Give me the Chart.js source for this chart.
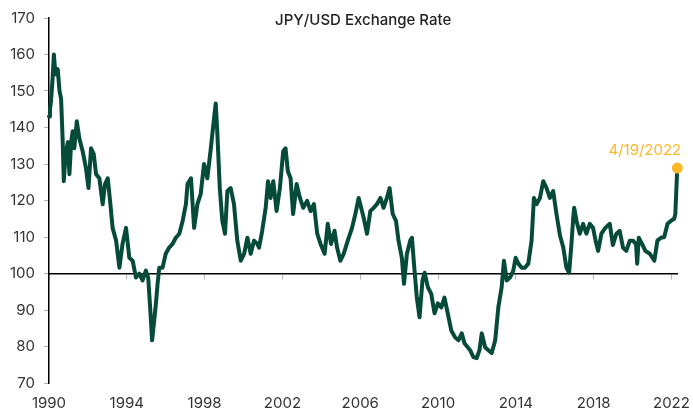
<!DOCTYPE html>
<html>
<head>
<meta charset="utf-8">
<script src="https://cdn.jsdelivr.net/npm/chart.js@4.4.1/dist/chart.umd.min.js"></script>
<style>
    html, body { margin: 0; padding: 0; background: #ffffff; }
    #wrap { width: 693px; height: 413px; }
</style>
</head>
<body>
<div id="wrap"><canvas id="grafico"></canvas></div>
<script>
// fecha decimal (año) y tipo de cambio
const fechas = [
    1990.00, 1990.05, 1990.10, 1990.18, 1990.25, 1990.31, 1990.37, 1990.45, 1990.54, 1990.62,
    1990.70, 1990.76, 1990.82, 1990.88, 1990.97, 1991.05, 1991.14, 1991.22, 1991.30, 1991.43,
    1991.56, 1991.73, 1991.90, 1992.03, 1992.16, 1992.30, 1992.42, 1992.59, 1992.76, 1992.88,
    1993.02, 1993.14, 1993.27, 1993.45, 1993.62, 1993.78, 1993.96, 1994.13, 1994.30, 1994.47,
    1994.64, 1994.81, 1994.98, 1995.10, 1995.20, 1995.30, 1995.41, 1995.50, 1995.58, 1995.67,
    1995.84, 1996.00, 1996.18, 1996.35, 1996.52, 1996.70, 1996.87, 1997.04, 1997.12, 1997.30,
    1997.46, 1997.63, 1997.80, 1997.97, 1998.14, 1998.32, 1998.45, 1998.57, 1998.65, 1998.78,
    1998.91, 1999.05, 1999.17, 1999.34, 1999.51, 1999.68, 1999.86, 2000.03, 2000.20, 2000.37,
    2000.54, 2000.71, 2000.80, 2000.96, 2001.14, 2001.26, 2001.39, 2001.53, 2001.70, 2001.87,
    2002.04, 2002.16, 2002.28, 2002.42, 2002.55, 2002.73, 2002.90, 2003.07, 2003.27, 2003.45,
    2003.62, 2003.79, 2003.96, 2004.17, 2004.33, 2004.50, 2004.68, 2004.81, 2004.98, 2005.15,
    2005.36, 2005.58, 2005.75, 2005.92, 2006.09, 2006.18, 2006.35, 2006.52, 2006.69, 2006.86,
    2007.04, 2007.20, 2007.37, 2007.51, 2007.67, 2007.84, 2007.97, 2008.14, 2008.25, 2008.40,
    2008.57, 2008.66, 2008.78, 2008.91, 2009.05, 2009.20, 2009.31, 2009.48, 2009.65, 2009.82,
    2009.99, 2010.17, 2010.33, 2010.50, 2010.68, 2010.88, 2011.05, 2011.22, 2011.36, 2011.53,
    2011.65, 2011.82, 2011.99, 2012.13, 2012.25, 2012.42, 2012.59, 2012.76, 2012.94, 2013.10,
    2013.27, 2013.39, 2013.53, 2013.70, 2013.87, 2013.99, 2014.13, 2014.30, 2014.47, 2014.64,
    2014.81, 2014.93, 2015.07, 2015.24, 2015.41, 2015.58, 2015.75, 2015.92, 2016.09, 2016.27,
    2016.44, 2016.60, 2016.74, 2016.86, 2016.95, 2017.00, 2017.12, 2017.29, 2017.46, 2017.63,
    2017.80, 2017.97, 2018.10, 2018.23, 2018.40, 2018.60, 2018.83, 2018.99, 2019.17, 2019.34,
    2019.51, 2019.68, 2019.86, 2020.03, 2020.18, 2020.24, 2020.32, 2020.49, 2020.66, 2020.89,
    2021.12, 2021.28, 2021.46, 2021.63, 2021.80, 2021.97, 2022.14, 2022.20, 2022.30
];
const tipoCambio = [
    143.0, 145.0, 147.0, 153.0, 160.0, 156.0, 154.5, 156.0, 150.0, 148.0,
    137.0, 125.3, 130.0, 133.5, 136.0, 127.2, 136.0, 139.0, 134.3, 141.7,
    137.0, 133.5, 128.9, 123.4, 134.3, 132.7, 127.2, 126.1, 119.0, 124.5,
    126.1, 119.9, 112.5, 109.0, 101.6, 108.1, 112.5, 104.3, 103.5, 98.9,
    100.0, 98.1, 100.8, 98.9, 90.7, 81.7, 87.2, 92.0, 97.0, 101.6,
    101.6, 105.4, 107.1, 108.1, 109.8, 110.9, 114.4, 119.0, 124.5, 126.1,
    112.5, 119.0, 121.8, 130.0, 126.1, 134.3, 140.8, 146.6, 139.0, 123.4,
    114.4, 110.9, 122.6, 123.4, 119.0, 109.0, 103.5, 105.4, 109.8, 105.4,
    109.0, 108.1, 107.1, 111.7, 118.0, 125.3, 120.7, 125.3, 117.1, 123.4,
    133.5, 134.3, 128.0, 126.1, 116.3, 124.5, 120.7, 118.0, 119.9, 117.1,
    119.0, 110.9, 108.1, 105.4, 113.6, 108.1, 111.7, 107.1, 103.5, 105.4,
    109.0, 112.5, 116.3, 120.7, 117.1, 115.2, 110.9, 117.1, 118.0, 119.0,
    120.7, 118.0, 120.7, 123.4, 116.3, 114.4, 109.0, 104.3, 97.2, 105.4,
    109.0, 109.8, 101.6, 93.4, 88.0, 98.1, 100.2, 96.2, 94.5, 89.1,
    91.8, 90.7, 93.4, 89.1, 84.4, 82.5, 81.7, 83.6, 80.9, 79.8,
    79.0, 77.1, 76.8, 79.0, 83.6, 79.8, 79.0, 78.2, 81.7, 90.7,
    96.2, 103.5, 98.1, 98.9, 100.8, 104.3, 102.7, 101.6, 101.6, 102.7,
    109.0, 120.7, 119.0, 120.7, 125.3, 123.4, 120.7, 122.6, 116.3, 110.4,
    107.1, 101.6, 100.2, 108.1, 115.2, 118.0, 114.4, 110.9, 113.6, 110.9,
    113.6, 112.5, 109.0, 106.2, 110.9, 112.5, 113.6, 107.8, 110.9, 111.7,
    107.1, 106.2, 109.0, 109.0, 108.0, 102.7, 109.8, 108.1, 106.2, 105.4,
    103.5, 109.0, 109.8, 110.0, 113.6, 114.4, 115.0, 116.3, 128.9
];
const anosEje = [1990, 1994, 1998, 2002, 2006, 2010, 2014, 2018, 2022];
const valoresEje = [70, 80, 90, 100, 110, 120, 130, 140, 150, 160, 170];
const lineaBase = 100;
const titulo = "JPY/USD Exchange Rate";
const etiquetaFinal = "4/19/2022";

const fuente = "Inter, 'DejaVu Sans', sans-serif";
const verde = "#064b39";
const naranja = "#fbb829";

let puntos = fechas.map((f, i) => ({ x: f, y: tipoCambio[i] }));
let ultimo = puntos.length - 1;

const ticksAnos = (scale) => {
    scale.ticks = anosEje.map((v) => ({ value: v }));
};

const pluginTextos = {
    id: "textos",
    afterDatasetsDraw(chart) {
        const c = chart.ctx;
        const area = chart.chartArea;
        c.save();
        c.font = "500 15px " + fuente;
        c.fillStyle = "#222222";
        c.textAlign = "center";
        c.textBaseline = "middle";
        c.fillText(titulo, (area.left + area.right) / 2, 20);

        let punto = chart.getDatasetMeta(0).data[ultimo];
        c.font = "15px " + fuente;
        c.fillStyle = naranja;
        c.textAlign = "right";
        c.fillText(etiquetaFinal, punto.x + 4, punto.y - 18);
        c.restore();
    }
};

const ctx = document.getElementById("grafico").getContext("2d");
new Chart(ctx, {
    type: "line",
    data: {
        datasets: [{
            data: puntos,
            borderColor: verde,
            borderWidth: 4,
            borderJoinStyle: "round",
            borderCapStyle: "round",
            tension: 0,
            clip: false,
            pointRadius: (c) => (c.dataIndex === ultimo ? 5.5 : 0),
            pointBackgroundColor: naranja,
            pointBorderWidth: 0,
            pointHoverRadius: 0
        }]
    },
    options: {
        responsive: true,
        maintainAspectRatio: false,
        animation: false,
        events: [],
        layout: { padding: { top: 14, right: 12, left: 0, bottom: 0 } },
        plugins: {
            legend: { display: false },
            tooltip: { enabled: false }
        },
        scales: {
            x: {
                type: "linear",
                position: "bottom",
                min: fechas[0],
                max: fechas[ultimo],
                afterBuildTicks: ticksAnos,
                afterFit: (scale) => { scale.height = 30; },
                border: { display: false },
                grid: { display: false },
                ticks: {
                    padding: 3,
                    color: "#333333",
                    font: { family: fuente, size: 15 },
                    callback: (v) => String(v)
                }
            },
            xBase: {
                type: "linear",
                axis: "x",
                position: { y: lineaBase },
                min: fechas[0],
                max: fechas[ultimo],
                afterBuildTicks: ticksAnos,
                border: { display: true, color: "#000000", width: 1.5 },
                grid: { drawOnChartArea: false, drawTicks: true, tickLength: 5, tickColor: "#b5b5b5" },
                ticks: { display: false }
            },
            y: {
                min: 70,
                max: 170,
                afterBuildTicks: (scale) => {
                    scale.ticks = valoresEje.map((v) => ({ value: v }));
                },
                afterFit: (scale) => { scale.width = 49; },
                border: { display: true, color: "#000000", width: 1.5 },
                grid: { drawOnChartArea: false, tickLength: 5, tickColor: "#b5b5b5" },
                ticks: {
                    padding: 9,
                    color: "#333333",
                    font: { family: fuente, size: 15 }
                }
            }
        }
    },
    plugins: [pluginTextos]
});
</script>
</body>
</html>
